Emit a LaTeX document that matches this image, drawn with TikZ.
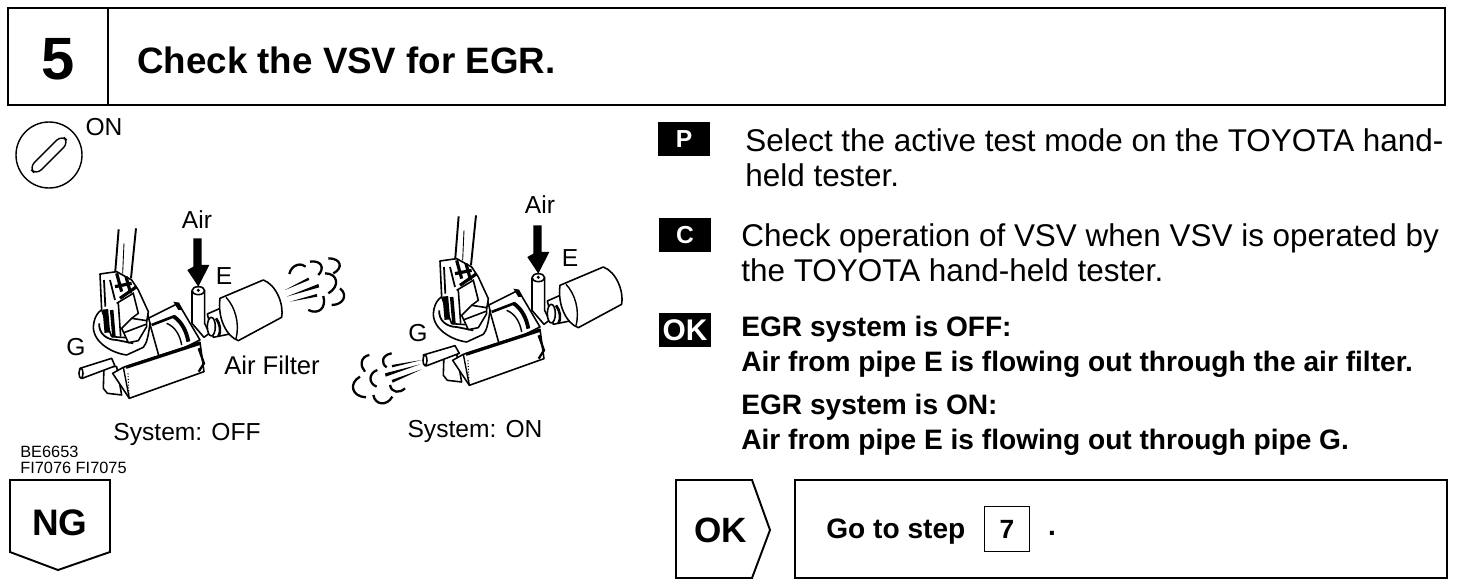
\documentclass[tikz,border=0pt]{standalone}
\usepackage{fontspec}
\setmainfont{Liberation Sans}
\usepackage{tikz}
\usetikzlibrary{positioning}

\tikzset{
    framebox/.style={draw, line width=1.1pt, fill=white},
    bodytext/.style={anchor=north west, align=left, inner sep=0pt, font=\fontsize{17.9}{20}\selectfont},
    boldtext/.style={anchor=north west, align=left, inner sep=0pt, font=\fontsize{16}{20}\selectfont\bfseries},
    labeltext/.style={inner sep=0pt, font=\fontsize{14}{16}\selectfont},
    tagbox/.style={fill=black, text=white, inner sep=0pt, minimum width=29.5pt, minimum height=19.5pt, font=\fontsize{14}{14}\selectfont\bfseries},
    part/.style={draw, line width=0.9pt, fill=white, line join=round},
    % one vertical valve drawn with the fine coordinates of the left view
    valve/.pic={
        \begin{scope}[x=0.00667cm, y=-0.00667cm]
            % Draw the cables
            \draw[line width=1.1pt] (356,358) -- (345,495);
            \draw[line width=1.1pt] (408,355) -- (393,505);
            \draw[line width=0.5pt] (372,400) -- (368,490);
            % Lower bracket
            \draw[part] (312,770) -- (310,835) -- (322,850) -- (365,855) -- (350,770) -- cycle;
            % Coil behind the connector
            \draw[part] (445,625) -- (535,580) -- (600,690) -- (480,750) -- cycle;
            \draw[line width=1.5pt] (455,645) -- (525,618);
            \draw[line width=2.2pt] (522,620) .. controls (545,635) and (560,665) .. (565,695);
            \draw[line width=0.8pt] (500,640) .. controls (525,650) and (540,675) .. (545,705);
            \fill (520,575) -- (537,578) -- (548,600) -- (535,600) -- cycle;
            % Body
            \draw[part] (370,772) -- (600,697) -- (612,785) -- (388,865) -- (338,790) -- cycle;
            \draw[line width=1.8pt] (378,772) -- (600,700);
            \draw[line width=0.8pt] (370,772) -- (388,865);
            \draw[line width=0.6pt, densely dotted] (384,790) -- (387,860);
            \draw[line width=1.3pt] (596,715) -- (612,760) -- (596,785);
            % Collar and connector
            \draw[part] (280,650) .. controls (283,610) and (305,590) .. (340,590) -- (440,600) -- (450,640) .. controls (445,680) and (440,700) .. (430,712) -- (380,735) .. controls (340,730) and (280,700) .. (280,650) -- cycle;
            \draw[line width=1pt] (298,640) .. controls (295,670) and (320,690) .. (350,690) -- (400,700);
            \draw[part] (300,492) -- (350,485) -- (395,510) -- (415,540) -- (445,605) -- (440,635) -- (405,685) -- (335,680) -- (305,600) -- cycle;
            \draw[line width=1pt] (312,510) -- (316,590) (330,510) -- (345,570);
            \draw[line width=1.8pt] (350,490) -- (365,545) (378,500) -- (392,550) (345,530) -- (395,520) (360,565) -- (410,530);
            \draw[line width=0.9pt] (350,580) -- (400,550) -- (415,610) -- (395,625) (355,580) -- (362,680);
            \draw[line width=3.2pt] (316,598) -- (322,668);
            \draw[line width=2pt] (335,600) -- (342,682);
            \draw[part] (365,655) -- (395,625) -- (440,632) -- (440,650) -- (415,692) -- (385,698) -- cycle;
            \draw[line width=0.9pt] (372,668) -- (438,643);
            % Pipe E
            \draw[part] (576,542) -- (576,640) -- (612,682) -- (628,670) -- (614,640) -- (614,542);
            \draw[part] (595,542) ellipse (19 and 12);
            \fill (595,541) circle (5);
            % Filter
            \draw[part] (622,612) -- (672,590) -- (690,672) -- (640,682) -- cycle;
            \draw[part] (634,650) ellipse (12 and 28);
            \draw[line width=1.5pt] (648,625) .. controls (660,640) and (665,665) .. (655,680);
            \draw[part] (660,565) -- (790,510) .. controls (830,525) and (852,585) .. (845,622) -- (715,692) .. controls (680,680) and (652,625) .. (660,565) -- cycle;
            \draw[line width=0.8pt] (678,562) .. controls (705,590) and (720,640) .. (708,686);
        \end{scope}
    },
    % thick arrow that points at pipe E
    airarrow/.pic={
        \begin{scope}[x=0.00667cm, y=-0.00667cm]
            \fill (580,385) -- (605,385) -- (605,465) -- (628,465) -- (595,530) -- (562,480) -- (580,470) -- cycle;
        \end{scope}
    },
}

\begin{document}
\begin{tikzpicture}[x=0.02cm, y=-0.02cm]
    \useasboundingbox (0,0) rectangle (1472,588);

    % Header
    \draw[framebox, line width=1.4pt] (8,8) rectangle (1445,105);
    \draw[line width=1.1pt] (108,8) -- (108,105);
    \node[inner sep=0pt, font=\fontsize{34}{34}\selectfont\bfseries] (stepnum) at (58,59) {5};
    \node[anchor=west, inner sep=0pt, font=\fontsize{20.9}{22}\selectfont\bfseries] (title) at (137,60) {Check the VSV for EGR.};

    % Ignition switch
    \draw[line width=0.8pt] (49,155) circle (33);
    \draw[line width=0.8pt, rounded corners=4pt, rotate around={45:(49,155)}] (26,150) rectangle (72,160);
    \node[labeltext] (swlabel) at (104,127) {ON};

    % Left valve
    \pic at (0,110) {valve};
    \pic at (0,110) {airarrow};
    \begin{scope}[shift={(0,110)}, x=0.00667cm, y=-0.00667cm]
        \draw[part] (240,775) -- (335,745) -- (345,768) -- (247,805) -- cycle;
        \draw[part] (243,790) ellipse (6 and 15);
        % Puff of air
        \fill (855,540) -- (925,503) -- (928,510) -- cycle;
        \fill (860,560) -- (955,522) -- (958,532) -- cycle;
        \fill (870,575) -- (950,552) -- (952,560) -- cycle;
        \draw[line width=1.3pt] (868,492) .. controls (875,462) and (905,458) .. (917,470);
        \draw[line width=1.3pt] (930,455) .. controls (965,450) and (975,475) .. (955,495);
        \draw[line width=1.3pt] (985,445) .. controls (1025,445) and (1030,475) .. (1000,490);
        \draw[line width=1.3pt] (975,490) .. controls (1015,490) and (1020,530) .. (985,550);
        \draw[line width=1.3pt] (1020,535) .. controls (1045,555) and (1030,585) .. (995,585);
        \draw[line width=1.3pt] (925,600) .. controls (955,615) and (980,595) .. (970,558);
    \end{scope}
    \node[labeltext] (airoff) at (197,220) {Air};
    \node[labeltext] (eoff) at (224,276) {E};
    \node[labeltext] (goff) at (76,347) {G};
    \node[labeltext, font=\fontsize{14.6}{16}\selectfont] (filter) at (272,365) {Air Filter};
    \node[labeltext] (sysoff) at (187,434) {System: OFF};

    % Right valve
    \pic at (340,97) {valve};
    \pic at (340,97) {airarrow};
    \begin{scope}[shift={(340,180)}, x=0.00667cm, y=-0.00667cm]
        \draw[part] (250,525) -- (345,497) -- (358,520) -- (258,558) -- cycle;
        \draw[part] (255,541) ellipse (6 and 16);
        % Puff of air
        \fill (245,540) -- (155,555) -- (157,562) -- cycle;
        \fill (240,553) -- (135,580) -- (137,590) -- cycle;
        \fill (245,568) -- (155,600) -- (158,608) -- cycle;
        \draw[line width=1.3pt] (88,525) .. controls (60,530) and (60,560) .. (75,575);
        \draw[line width=1.3pt] (155,520) .. controls (125,525) and (122,550) .. (140,562);
        \draw[line width=1.3pt] (112,570) .. controls (85,580) and (85,610) .. (110,620);
        \draw[line width=1.3pt] (60,590) .. controls (25,610) and (35,650) .. (78,652);
        \draw[line width=1.3pt] (150,615) .. controls (155,640) and (180,640) .. (195,625);
        \draw[line width=1.3pt] (100,645) .. controls (105,675) and (140,680) .. (157,650);
    \end{scope}
    \node[labeltext] (airon) at (540,205) {Air};
    \node[labeltext] (eon) at (570,258) {E};
    \node[labeltext] (gon) at (418,333) {G};
    \node[labeltext] (syson) at (475,431) {System: ON};

    % Reference codes
    \node[anchor=west, inner sep=0pt, font=\fontsize{9.3}{10}\selectfont] (codea) at (20,452) {BE6653};
    \node[anchor=west, inner sep=0pt, font=\fontsize{9.3}{10}\selectfont] (codeb) at (20,468) {FI7076 FI7075};

    % NG flag
    \draw[framebox] (10,480) -- (110,480) -- (110,552) -- (58,570) -- (10,552) -- cycle;
    \node[inner sep=0pt, font=\fontsize{21}{22}\selectfont\bfseries] (nglabel) at (60,523) {NG};

    % Instructions
    \node[tagbox] (tagp) at (684,139) {P};
    \node[bodytext] (textp) at (745,128) {Select the active test mode on the TOYOTA hand-\\held tester.};
    \node[tagbox] (tagc) at (685,235) {C};
    \node[bodytext] (textc) at (741,223) {Check operation of VSV when VSV is operated by\\the TOYOTA hand-held tester.};
    \node[tagbox, font=\fontsize{17}{17}\selectfont\bfseries] (tagok) at (685,330) {OK};
    \node[boldtext] (textoff) at (741,316) {EGR system is OFF:\\Air from pipe E is flowing out through the air filter.};
    \node[boldtext] (texton) at (741,394) {EGR system is ON:\\Air from pipe E is flowing out through pipe G.};

    % OK flag and next step
    \draw[framebox] (676,480) -- (752,480) -- (770,530) -- (752,578) -- (676,578) -- cycle;
    \node[inner sep=0pt, font=\fontsize{20}{20}\selectfont\bfseries] (oklabel) at (721,530) {OK};
    \draw[framebox] (795,480) rectangle (1447,578);
    \node[anchor=west, inner sep=0pt, font=\fontsize{16}{18}\selectfont\bfseries] (gotext) at (826,532) {Go to step};
    \node[draw, line width=0.7pt, inner sep=0pt, minimum width=26pt, minimum height=26pt, font=\fontsize{15}{16}\selectfont\bfseries] (stepref) at (1007,529) {7};
    \node[inner sep=0pt, font=\fontsize{16}{18}\selectfont\bfseries] (dot) at (1052,533) {.};
\end{tikzpicture}
\end{document}
